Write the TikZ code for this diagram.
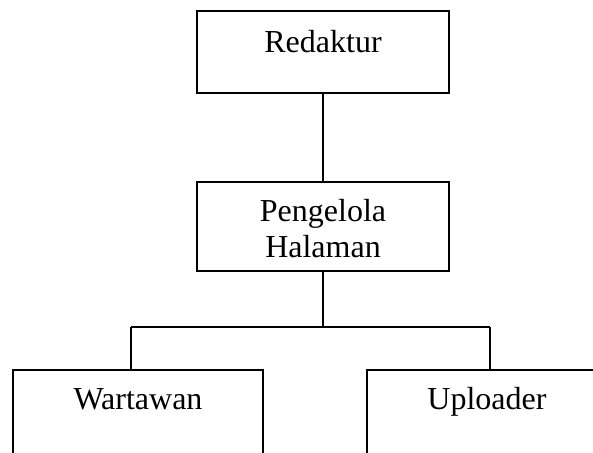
\documentclass[tikz,border=0pt]{standalone}
\usepackage{fontspec}
\setmainfont{Liberation Serif}
\begin{document}
\begin{tikzpicture}[x=0.75pt, y=-0.75pt,
    box/.style={draw=black, line width=1.3pt, rectangle, inner sep=0pt},
    label text/.style={inner sep=0pt, anchor=base, align=center,
                       font=\fontsize{24}{27}\selectfont},
    link/.style={draw=black, line width=1.3pt}]
  \useasboundingbox (0,0) rectangle (593,453);

  % boxes
  \node[box, minimum width=189pt, minimum height=61.5pt] (red)  at (323,52) {};
  \node[box, minimum width=189pt, minimum height=66.5pt] (peng) at (323,226.3) {};
  \node[box, minimum width=187.5pt, minimum height=75pt] (wart) at (138,420) {};
  \node[box, minimum width=183pt, minimum height=75pt]   (upl)  at (489,420) {};

  % labels; the base anchor of a two-line label sits on its last line
  \node[label text] (redT)  at ([yshift=-31.5pt]red.north)  {Redaktur};
  \node[label text] (pengT) at ([yshift=-57pt]peng.north)   {Pengelola\\Halaman};
  \node[label text] (wartT) at ([yshift=-30pt]wart.north)   {Wartawan};
  \node[label text] (uplT)  at ([xshift=-1.5pt,yshift=-30pt]upl.north) {Uploader};

  % connectors
  \coordinate (jl) at (131,327);
  \coordinate (jr) at (490,327);
  \draw[link] (red.south) -- (peng.north);
  \draw[link] (peng.south) -- (peng.south |- jl);
  \draw[link] (jl) -- (jr);
  \draw[link] (jl) -- (jl |- wart.north);
  \draw[link] (jr) -- (jr |- upl.north);
\end{tikzpicture}
\end{document}
